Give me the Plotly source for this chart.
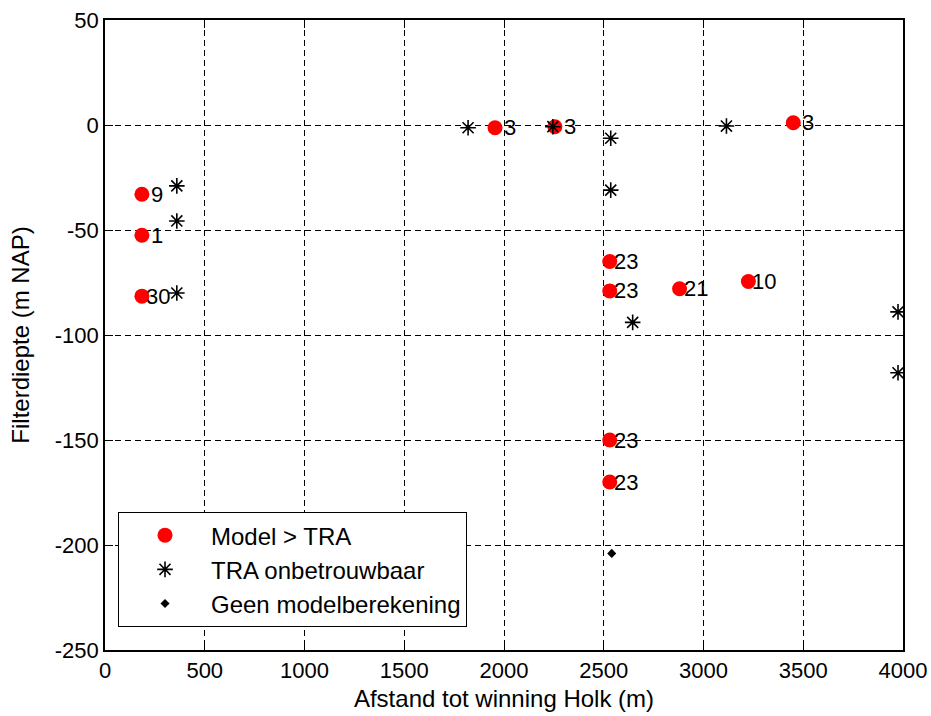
import plotly.graph_objects as go

# Wells where the model exceeds the TRA value (with the number of the well field)
model_x = [185, 185, 185, 1955, 2255, 3450, 2530, 2530, 2880, 3225, 2530, 2530]
model_y = [-33, -52.5, -81.5, -1.3, -0.8, 1.1, -65, -79, -78, -74.5, -150, -170]
model_lbl = [9, 1, 30, 3, 3, 3, 23, 23, 21, 10, 23, 23]

# Wells with an unreliable TRA
tra_x = [360, 360, 360, 1820, 2245, 2535, 2535, 3115, 2645, 3975, 3975]
tra_y = [-29, -45.7, -80, -1.3, -0.8, -6.3, -31, -0.5, -94, -89, -118]

# Wells without model calculation
geen_x = [2540]
geen_y = [-204]

x_ticks = [0, 500, 1000, 1500, 2000, 2500, 3000, 3500, 4000]
y_ticks = [50, 0, -50, -100, -150, -200, -250]

FONT = "Arial, Liberation Sans, sans-serif"

fig = go.Figure()
fig.add_trace(go.Scatter(
    x=model_x, y=model_y, mode="markers", name="Model > TRA",
    legendgroup="a",
    marker=dict(color="#ff0000", size=15, line=dict(width=0)),
))
fig.add_trace(go.Scatter(
    x=tra_x, y=tra_y, mode="markers", name="TRA onbetrouwbaar",
    legendgroup="b",
    marker=dict(symbol="asterisk-open", color="black", size=13,
                line=dict(color="black", width=1.6)),
))
fig.add_trace(go.Scatter(
    x=geen_x, y=geen_y, mode="markers", name="Geen modelberekening",
    legendgroup="c",
    marker=dict(symbol="diamond", color="black", size=7),
))

# number labels next to the red markers; single digits get a leading gap
for xv, yv, n in zip(model_x, model_y, model_lbl):
    fig.add_annotation(
        x=xv, y=yv, text=str(n), showarrow=False,
        xanchor="left", yanchor="middle",
        xshift=2 + (5 if n < 10 else 0),
        font=dict(family=FONT, size=22, color="black"),
    )

axis_common = dict(
    showline=True, linecolor="black", linewidth=1.5, mirror="ticks",
    ticks="inside", ticklen=8, tickcolor="black", tickwidth=1,
    showgrid=True, gridcolor="black", gridwidth=1, griddash="6px,4px",
    zeroline=False, automargin=False,
    tickfont=dict(family=FONT, size=22, color="black"),
)

fig.update_xaxes(
    range=[0, 4000], tickvals=x_ticks, ticktext=[str(v) for v in x_ticks],
    title=dict(text="Afstand tot winning Holk (m)", standoff=8,
               font=dict(family=FONT, size=24, color="black")),
    **axis_common,
)
fig.update_yaxes(
    range=[-250, 50], tickvals=y_ticks, ticktext=[str(v) for v in y_ticks],
    title=dict(text="Filterdiepte (m NAP)", standoff=18,
               font=dict(family=FONT, size=24, color="black")),
    **axis_common,
)

fig.update_layout(
    width=931, height=716,
    margin=dict(l=105, r=28, t=20, b=66),
    paper_bgcolor="white", plot_bgcolor="white",
    font=dict(family=FONT, size=22, color="black"),
    showlegend=True,
    legend=dict(
        x=0.0163, y=0.219, xanchor="left", yanchor="top",
        bgcolor="white", bordercolor="black", borderwidth=1,
        font=dict(family=FONT, size=24, color="black"),
        itemwidth=82, tracegroupgap=0,
    ),
)

fig.write_html("out.html")
